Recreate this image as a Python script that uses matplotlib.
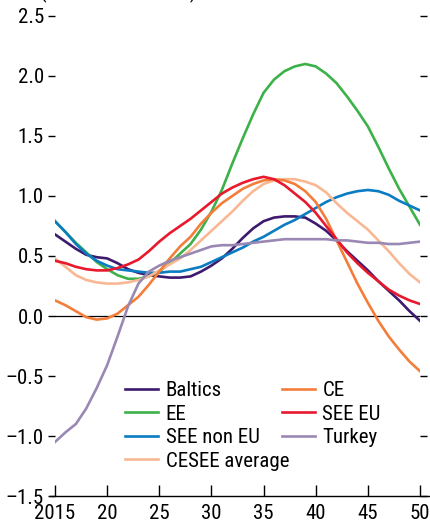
import matplotlib
matplotlib.use("Agg")
import matplotlib.pyplot as plt
import numpy as np

plt.rcParams['font.family'] = ['Roboto Condensed', 'DejaVu Sans']
plt.rcParams['font.size'] = 15

years = np.arange(2015, 2051)

baltics = [0.68, 0.62, 0.56, 0.51, 0.49, 0.48, 0.44, 0.39, 0.36, 0.34,
           0.33, 0.32, 0.32, 0.33, 0.37, 0.42, 0.48, 0.56, 0.65, 0.73,
           0.79, 0.82, 0.83, 0.83, 0.82, 0.77, 0.71, 0.63, 0.54, 0.46,
           0.38, 0.29, 0.21, 0.13, 0.04, -0.04]
ee = [0.79, 0.70, 0.61, 0.53, 0.45, 0.39, 0.34, 0.31, 0.31, 0.33,
      0.37, 0.44, 0.52, 0.60, 0.72, 0.87, 1.05, 1.27, 1.48, 1.68,
      1.86, 1.97, 2.04, 2.08, 2.10, 2.08, 2.02, 1.94, 1.83, 1.71,
      1.58, 1.41, 1.23, 1.06, 0.91, 0.76]
see_non_eu = [0.79, 0.70, 0.60, 0.52, 0.46, 0.42, 0.39, 0.38, 0.37, 0.36,
              0.36, 0.37, 0.37, 0.39, 0.41, 0.45, 0.49, 0.53, 0.57, 0.62,
              0.66, 0.71, 0.76, 0.80, 0.85, 0.90, 0.95, 0.99, 1.02, 1.04,
              1.05, 1.04, 1.01, 0.96, 0.92, 0.88]
cesee_avg = [0.48, 0.41, 0.34, 0.30, 0.28, 0.27, 0.27, 0.28, 0.30, 0.33,
             0.38, 0.43, 0.48, 0.55, 0.63, 0.71, 0.79, 0.87, 0.96, 1.04,
             1.10, 1.13, 1.14, 1.14, 1.12, 1.09, 1.03, 0.94, 0.86, 0.79,
             0.72, 0.63, 0.54, 0.44, 0.35, 0.28]
ce = [0.13, 0.09, 0.04, -0.01, -0.03, -0.02, 0.02, 0.09, 0.16, 0.26,
      0.37, 0.48, 0.58, 0.66, 0.77, 0.86, 0.94, 1.00, 1.06, 1.10,
      1.13, 1.14, 1.13, 1.10, 1.04, 0.95, 0.81, 0.63, 0.45, 0.27,
      0.11, -0.04, -0.17, -0.28, -0.38, -0.46]
see_eu = [0.46, 0.44, 0.41, 0.39, 0.38, 0.38, 0.40, 0.43, 0.47, 0.54,
          0.62, 0.69, 0.75, 0.81, 0.88, 0.95, 1.02, 1.07, 1.11, 1.14,
          1.16, 1.14, 1.09, 1.02, 0.95, 0.86, 0.75, 0.64, 0.53, 0.44,
          0.36, 0.29, 0.22, 0.17, 0.13, 0.10]
turkey = [-1.05, -0.97, -0.90, -0.77, -0.60, -0.41, -0.17, 0.08, 0.27, 0.37,
          0.42, 0.46, 0.49, 0.52, 0.55, 0.58, 0.59, 0.59, 0.60, 0.61,
          0.62, 0.63, 0.64, 0.64, 0.64, 0.64, 0.64, 0.63, 0.63, 0.62,
          0.61, 0.61, 0.60, 0.60, 0.61, 0.62]

# draw order: legend columns fill top-down, left column first
series = [
    ("Baltics", baltics, "#3d1a6e"),
    ("EE", ee, "#3db149"),
    ("SEE non EU", see_non_eu, "#0a7cc1"),
    ("CESEE average", cesee_avg, "#f9b894"),
    ("CE", ce, "#f47d3a"),
    ("SEE EU", see_eu, "#e8182d"),
    ("Turkey", turkey, "#9a88b4"),
]

xticks = [2015, 2020, 2025, 2030, 2035, 2040, 2045, 2050]
xticklabels = ["2015", "20", "25", "30", "35", "40", "45", "50"]
yticks = [-1.5, -1.0, -0.5, 0.0, 0.5, 1.0, 1.5, 2.0, 2.5]

fig = plt.figure(figsize=(4.31, 5.27), dpi=100)
ax = fig.add_axes([55 / 431, 31 / 527, 365 / 431, 492 / 527])

ax.axhline(0, color="black", lw=0.9, zorder=1)
handles = []
for name, vals, col in series:
    h, = ax.plot(years, vals, color=col, lw=1.9, label=name, zorder=2)
    handles.append(h)

ax.set_xlim(2015, 2050)
ax.set_ylim(-1.5, 2.6)

for s in ["top", "left", "right"]:
    ax.spines[s].set_visible(False)
ax.spines["bottom"].set_bounds(2014.5, 2051)
ax.spines["bottom"].set_linewidth(1.0)

ax.set_xticks(xticks)
ax.set_xticklabels(xticklabels)
ax.set_yticks(yticks)
ax.set_yticklabels([f"{v:.1f}".replace("-", "\u2013") for v in yticks])
ax.tick_params(axis="x", direction="in", length=8, width=1, pad=6)
ax.tick_params(axis="y", direction="out", length=5, width=1, pad=3,
               left=True, right=True)

leg = ax.legend(handles=handles, ncol=2, frameon=False, loc="upper left",
                bbox_to_anchor=(125 / 431, 1 - 381 / 527),
                bbox_transform=fig.transFigure, borderpad=0, borderaxespad=0,
                handlelength=1.6, handletextpad=0.35, labelspacing=0.22,
                columnspacing=-0.35, fontsize=15)

# units line sits just above the top edge; only the bracket tails show
fig.text(40 / 431, 1.0 + 2 / 527, "(Percent deviation)", fontsize=15,
         va="baseline", ha="left")

fig.savefig("out.png", dpi=100)
